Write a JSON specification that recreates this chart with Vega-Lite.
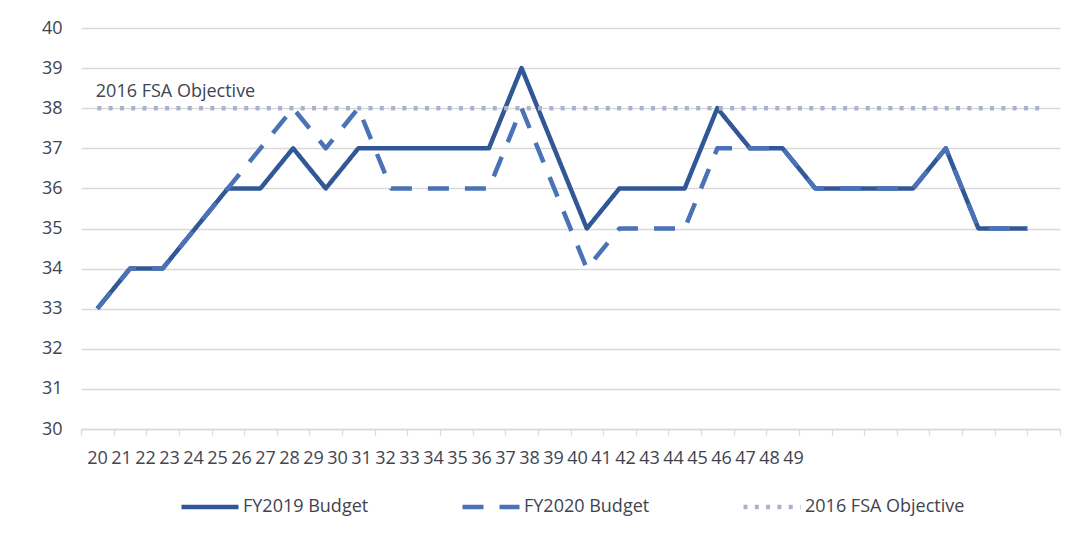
{
  "$schema": "https://vega.github.io/schema/vega-lite/v6.json",
  "autosize": "none",
  "padding": {"left": 81, "top": 28, "right": 21, "bottom": 107},
  "width": 979,
  "height": 401,
  "background": "white",
  "config": {
    "view": {"stroke": null},
    "font": "Open Sans",
    "text": {"font": "Open Sans"}
  },
  "datasets": {
    "series": [
      {"series": "FY2019 Budget", "pos": 0.5, "value": 33},
      {"series": "FY2019 Budget", "pos": 1.5, "value": 34},
      {"series": "FY2019 Budget", "pos": 2.5, "value": 34},
      {"series": "FY2019 Budget", "pos": 3.5, "value": 35},
      {"series": "FY2019 Budget", "pos": 4.5, "value": 36},
      {"series": "FY2019 Budget", "pos": 5.5, "value": 36},
      {"series": "FY2019 Budget", "pos": 6.5, "value": 37},
      {"series": "FY2019 Budget", "pos": 7.5, "value": 36},
      {"series": "FY2019 Budget", "pos": 8.5, "value": 37},
      {"series": "FY2019 Budget", "pos": 9.5, "value": 37},
      {"series": "FY2019 Budget", "pos": 10.5, "value": 37},
      {"series": "FY2019 Budget", "pos": 11.5, "value": 37},
      {"series": "FY2019 Budget", "pos": 12.5, "value": 37},
      {"series": "FY2019 Budget", "pos": 13.5, "value": 39},
      {"series": "FY2019 Budget", "pos": 14.5, "value": 37},
      {"series": "FY2019 Budget", "pos": 15.5, "value": 35},
      {"series": "FY2019 Budget", "pos": 16.5, "value": 36},
      {"series": "FY2019 Budget", "pos": 17.5, "value": 36},
      {"series": "FY2019 Budget", "pos": 18.5, "value": 36},
      {"series": "FY2019 Budget", "pos": 19.5, "value": 38},
      {"series": "FY2019 Budget", "pos": 20.5, "value": 37},
      {"series": "FY2019 Budget", "pos": 21.5, "value": 37},
      {"series": "FY2019 Budget", "pos": 22.5, "value": 36},
      {"series": "FY2019 Budget", "pos": 23.5, "value": 36},
      {"series": "FY2019 Budget", "pos": 24.5, "value": 36},
      {"series": "FY2019 Budget", "pos": 25.5, "value": 36},
      {"series": "FY2019 Budget", "pos": 26.5, "value": 37},
      {"series": "FY2019 Budget", "pos": 27.5, "value": 35},
      {"series": "FY2019 Budget", "pos": 29.0, "value": 35},
      {"series": "FY2020 Budget", "pos": 0.5, "value": 33},
      {"series": "FY2020 Budget", "pos": 1.5, "value": 34},
      {"series": "FY2020 Budget", "pos": 2.5, "value": 34},
      {"series": "FY2020 Budget", "pos": 3.5, "value": 35},
      {"series": "FY2020 Budget", "pos": 4.5, "value": 36},
      {"series": "FY2020 Budget", "pos": 5.5, "value": 37},
      {"series": "FY2020 Budget", "pos": 6.5, "value": 38},
      {"series": "FY2020 Budget", "pos": 7.5, "value": 37},
      {"series": "FY2020 Budget", "pos": 8.5, "value": 38},
      {"series": "FY2020 Budget", "pos": 9.5, "value": 36},
      {"series": "FY2020 Budget", "pos": 10.5, "value": 36},
      {"series": "FY2020 Budget", "pos": 11.5, "value": 36},
      {"series": "FY2020 Budget", "pos": 12.5, "value": 36},
      {"series": "FY2020 Budget", "pos": 13.5, "value": 38},
      {"series": "FY2020 Budget", "pos": 14.5, "value": 36},
      {"series": "FY2020 Budget", "pos": 15.5, "value": 34},
      {"series": "FY2020 Budget", "pos": 16.5, "value": 35},
      {"series": "FY2020 Budget", "pos": 17.5, "value": 35},
      {"series": "FY2020 Budget", "pos": 18.5, "value": 35},
      {"series": "FY2020 Budget", "pos": 19.5, "value": 37},
      {"series": "FY2020 Budget", "pos": 20.5, "value": 37},
      {"series": "FY2020 Budget", "pos": 21.5, "value": 37},
      {"series": "FY2020 Budget", "pos": 22.5, "value": 36},
      {"series": "FY2020 Budget", "pos": 23.5, "value": 36},
      {"series": "FY2020 Budget", "pos": 24.5, "value": 36},
      {"series": "FY2020 Budget", "pos": 25.5, "value": 36},
      {"series": "FY2020 Budget", "pos": 26.5, "value": 37},
      {"series": "FY2020 Budget", "pos": 27.5, "value": 35},
      {"series": "FY2020 Budget", "pos": 29.0, "value": 35},
      {"series": "2016 FSA Objective", "pos": 0.5, "value": 38},
      {"series": "2016 FSA Objective", "pos": 1.5, "value": 38},
      {"series": "2016 FSA Objective", "pos": 2.5, "value": 38},
      {"series": "2016 FSA Objective", "pos": 3.5, "value": 38},
      {"series": "2016 FSA Objective", "pos": 4.5, "value": 38},
      {"series": "2016 FSA Objective", "pos": 5.5, "value": 38},
      {"series": "2016 FSA Objective", "pos": 6.5, "value": 38},
      {"series": "2016 FSA Objective", "pos": 7.5, "value": 38},
      {"series": "2016 FSA Objective", "pos": 8.5, "value": 38},
      {"series": "2016 FSA Objective", "pos": 9.5, "value": 38},
      {"series": "2016 FSA Objective", "pos": 10.5, "value": 38},
      {"series": "2016 FSA Objective", "pos": 11.5, "value": 38},
      {"series": "2016 FSA Objective", "pos": 12.5, "value": 38},
      {"series": "2016 FSA Objective", "pos": 13.5, "value": 38},
      {"series": "2016 FSA Objective", "pos": 14.5, "value": 38},
      {"series": "2016 FSA Objective", "pos": 15.5, "value": 38},
      {"series": "2016 FSA Objective", "pos": 16.5, "value": 38},
      {"series": "2016 FSA Objective", "pos": 17.5, "value": 38},
      {"series": "2016 FSA Objective", "pos": 18.5, "value": 38},
      {"series": "2016 FSA Objective", "pos": 19.5, "value": 38},
      {"series": "2016 FSA Objective", "pos": 20.5, "value": 38},
      {"series": "2016 FSA Objective", "pos": 21.5, "value": 38},
      {"series": "2016 FSA Objective", "pos": 22.5, "value": 38},
      {"series": "2016 FSA Objective", "pos": 23.5, "value": 38},
      {"series": "2016 FSA Objective", "pos": 24.5, "value": 38},
      {"series": "2016 FSA Objective", "pos": 25.5, "value": 38},
      {"series": "2016 FSA Objective", "pos": 26.5, "value": 38},
      {"series": "2016 FSA Objective", "pos": 27.5, "value": 38},
      {"series": "2016 FSA Objective", "pos": 28.5, "value": 38},
      {"series": "2016 FSA Objective", "pos": 29.5, "value": 38}
    ],
    "annotation": [
      {"label": "2016 FSA Objective", "pos": 0.5, "value": 38}
    ],
    "years": [
      {"fy": 20}, {"fy": 21}, {"fy": 22}, {"fy": 23}, {"fy": 24}, {"fy": 25},
      {"fy": 26}, {"fy": 27}, {"fy": 28}, {"fy": 29}, {"fy": 30}, {"fy": 31},
      {"fy": 32}, {"fy": 33}, {"fy": 34}, {"fy": 35}, {"fy": 36}, {"fy": 37},
      {"fy": 38}, {"fy": 39}, {"fy": 40}, {"fy": 41}, {"fy": 42}, {"fy": 43},
      {"fy": 44}, {"fy": 45}, {"fy": 46}, {"fy": 47}, {"fy": 48}, {"fy": 49}
    ]
  },
  "layer": [
    {
      "layer": [
        {
          "data": {"name": "series"},
          "mark": {"type": "line", "strokeWidth": 4.5, "strokeJoin": "round"},
          "encoding": {
            "x": {
              "field": "pos", "type": "quantitative",
              "scale": {"domain": [0, 30], "nice": false, "zero": false},
              "axis": {
                "orient": "bottom", "title": null, "grid": false,
                "labels": true, "labelOpacity": 0, "labelOverlap": false, "labelFontSize": 8,
                "values": [0,1,2,3,4,5,6,7,8,9,10,11,12,13,14,15,16,17,18,19,20,21,22,23,24,25,26,27,28,29,30],
                "tickCount": 31,
                "ticks": true, "tickSize": 6, "tickColor": "#d9d9d9", "tickWidth": 1.3,
                "domainColor": "#d9d9d9", "domainWidth": 1.3
              }
            },
            "y": {
              "field": "value", "type": "quantitative",
              "scale": {"domain": [30, 40], "nice": false, "zero": false},
              "axis": {
                "title": null, "values": [30,31,32,33,34,35,36,37,38,39,40],
                "grid": true, "gridColor": "#d9d9d9", "gridWidth": 1.3,
                "domain": false, "ticks": false, "tickSize": 0, "labelPadding": 19,
                "labelFontSize": 18, "labelColor": "#3f4451", "labelFont": "Open Sans"
              }
            },
            "color": {
              "field": "series", "type": "nominal",
              "scale": {
                "domain": ["FY2019 Budget", "FY2020 Budget", "2016 FSA Objective"],
                "range": ["#325797", "#4a72b6", "#a9b3cf"]
              },
              "legend": {
                "title": null, "orient": "none", "direction": "horizontal",
                "legendX": 98, "legendY": 448,
                "symbolType": "stroke", "symbolSize": 3249, "symbolStrokeWidth": 4.5,
                "labelFontSize": 18, "labelColor": "#3f4451", "labelFont": "Open Sans",
                "labelLimit": 400, "columnPadding": 84, "labelOffset": 2, "padding": 0
              }
            },
            "strokeDash": {
              "field": "series", "type": "nominal",
              "scale": {
                "domain": ["FY2019 Budget", "FY2020 Budget", "2016 FSA Objective"],
                "range": [[1, 0], [21, 16], [4, 7.3]]
              },
              "legend": null
            },
            "order": {"field": "pos", "type": "quantitative"}
          }
        },
        {
          "data": {"name": "annotation"},
          "mark": {"type": "text", "align": "left", "baseline": "alphabetic", "dy": -11, "dx": -1.5, "fontSize": 18, "font": "Open Sans", "color": "#3f4451"},
          "encoding": {
            "x": {"field": "pos", "type": "quantitative"},
            "y": {"field": "value", "type": "quantitative"},
            "text": {"field": "label"}
          }
        }
      ]
    },
    {
      "data": {"name": "years"},
      "mark": {"type": "point", "opacity": 0},
      "encoding": {
        "x": {
          "field": "fy", "type": "quantitative",
          "scale": {"domain": [19.333, 60.125], "nice": false, "zero": false},
          "axis": {
            "orient": "bottom", "title": null, "grid": false, "domain": false,
            "ticks": false, "tickSize": 0, "labelPadding": 20,
            "values": [20,21,22,23,24,25,26,27,28,29,30,31,32,33,34,35,36,37,38,39,40,41,42,43,44,45,46,47,48,49],
            "labelFontSize": 18, "labelColor": "#3f4451", "labelFont": "Open Sans",
            "labelOverlap": false, "labelFlush": false, "format": "d"
          }
        }
      }
    }
  ],
  "resolve": {"scale": {"x": "independent"}, "axis": {"x": "independent"}}
}
